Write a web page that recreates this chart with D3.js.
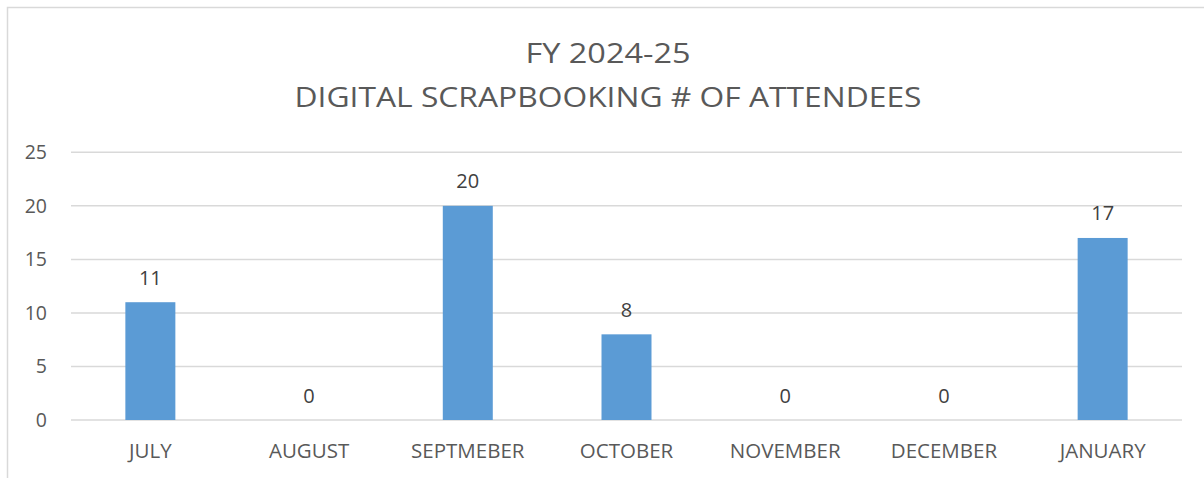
<!DOCTYPE html>
<html><head><meta charset="utf-8">
<script src="https://cdn.jsdelivr.net/npm/d3@7"></script>
<style>body{margin:0;background:#fff;}svg{display:block;}</style>
</head><body>
<svg id="c" width="1204" height="478"></svg>
<script>
const categories = ["JULY","AUGUST","SEPTMEBER","OCTOBER","NOVEMBER","DECEMBER","JANUARY"];
const values = [11,0,20,8,0,0,17];
const yTicks = [0,5,10,15,20,25];
const titleLines = ["FY 2024-25","DIGITAL SCRAPBOOKING # OF ATTENDEES"];

(function(){
const svg = d3.select("#c");
const font = "'Open Sans', Lato, sans-serif";
svg.append("rect").attr("x",7.5).attr("y",7.5).attr("width",1400).attr("height",800)
  .attr("fill","#fff").attr("stroke","#d9d9d9").attr("stroke-width",1.5);

const pl=71, pr=1182, pt=152.3, pb=420;
const x = d3.scaleBand().domain(categories).range([pl,pr]).paddingInner(0.685).paddingOuter(0.3425);
const y = d3.scaleLinear().domain([0,25]).range([pb,pt]);

const g = svg.append("g");
g.selectAll("line.grid").data(yTicks).join("line")
  .attr("x1",pl).attr("x2",pr).attr("y1",d=>y(d)).attr("y2",d=>y(d))
  .attr("stroke","#d9d9d9").attr("stroke-width",1.5);

g.selectAll("text.yl").data(yTicks).join("text")
  .attr("x",47).attr("y",d=>y(d)).attr("dy","0.36em").attr("text-anchor","end")
  .attr("font-family",font).attr("font-size",19.5).attr("fill","#595959").text(d=>d);

g.selectAll("rect.bar").data(values).join("rect")
  .attr("x",(d,i)=>x(categories[i])).attr("width",x.bandwidth())
  .attr("y",d=>y(d)).attr("height",d=>y(0)-y(d)).attr("fill","#5b9bd5");

g.selectAll("text.val").data(values).join("text")
  .attr("x",(d,i)=>x(categories[i])+x.bandwidth()/2).attr("y",d=>y(d)-17.5)
  .attr("text-anchor","middle").attr("font-family",font).attr("font-size",20).attr("fill","#404040").text(d=>d);

g.selectAll("text.xl").data(categories).join("text")
  .attr("x",d=>x(d)+x.bandwidth()/2).attr("y",458.3).attr("text-anchor","middle")
  .attr("font-family",font).attr("font-size",20.5).attr("fill","#595959").text(d=>d);

svg.append("text").attr("x",608).attr("y",63).attr("text-anchor","middle")
  .attr("font-family",font).attr("font-size",28).attr("fill","#595959")
  .attr("textLength",165).attr("lengthAdjust","spacingAndGlyphs").text(titleLines[0]);
svg.append("text").attr("x",608).attr("y",107).attr("text-anchor","middle")
  .attr("font-family",font).attr("font-size",28).attr("fill","#595959")
  .attr("textLength",627).attr("lengthAdjust","spacingAndGlyphs").text(titleLines[1]);
})();
</script>
</body></html>
